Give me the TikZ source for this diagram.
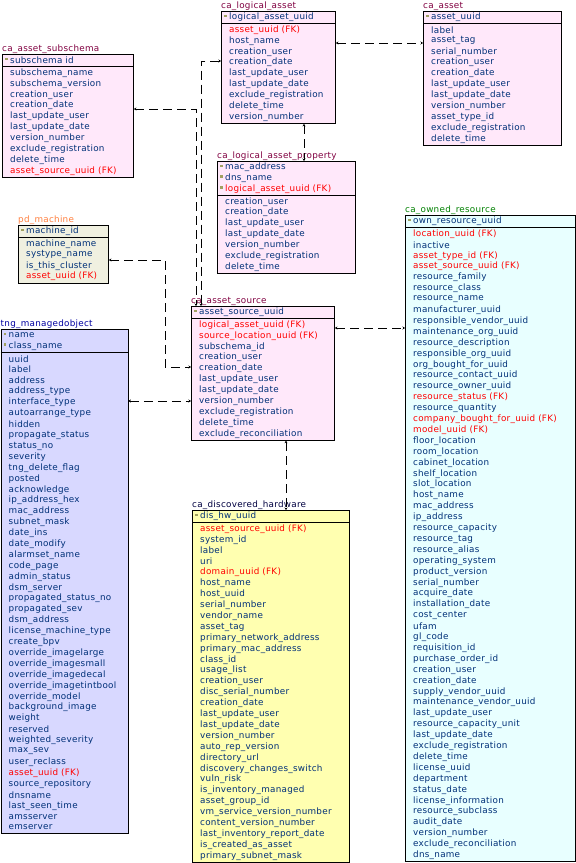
\documentclass[tikz,border=0pt]{standalone}
\usepackage{fontspec}
\setmainfont{DejaVu Sans}[LetterSpace=3]
\usetikzlibrary{arrows.meta}
\definecolor{navy}{HTML}{003078}
\definecolor{fkred}{HTML}{FF0000}
\definecolor{keyc}{HTML}{A0A060}
\definecolor{fpink}{HTML}{FFE8FA}\definecolor{tpink}{HTML}{800040}
\definecolor{fpd}{HTML}{F0F0E0}\definecolor{tpd}{HTML}{FF8040}
\definecolor{ftng}{HTML}{D8D8FF}\definecolor{ttng}{HTML}{0000A0}
\definecolor{fown}{HTML}{E8FFFF}\definecolor{town}{HTML}{008000}
\definecolor{fdisc}{HTML}{FFFFB0}\definecolor{tdisc}{HTML}{000040}
\tikzset{
  x=1pt,y=-1pt,
  box/.style={draw=black,line width=0.9pt,inner sep=0},
  title/.style={inner sep=0,anchor=south west,font=\fontsize{8.8}{9}\selectfont},
  row/.style={inner sep=0,anchor=west,text=navy,font=\fontsize{8.8}{9}\selectfont},
  nn/.style={},
  fk/.style={text=fkred},
  boxpink/.style={fill=fpink}, titlepink/.style={text=tpink},
  boxpd/.style={fill=fpd}, titlepd/.style={text=tpd},
  boxtng/.style={fill=ftng}, titletng/.style={text=ttng},
  boxown/.style={fill=fown}, titleown/.style={text=town},
  boxdisc/.style={fill=fdisc}, titledisc/.style={text=tdisc},
  conn/.style={line width=0.9pt,dash pattern=on 9pt off 5pt,{Stealth[length=2.5pt,width=3pt]}-{Stealth[length=2.5pt,width=3pt]}},
}
\newcommand\mktable[9]{%
  \pgfmathsetmacro\hb{#3+#5*10.9+2}%
  \pgfmathsetmacro\hgt{#5*10.9+2+#6*10.9+1}%
  \node[box,box#7,minimum width=#4pt,minimum height=\hgt pt,anchor=north west] (#1) at (#2,#3) {};
  \draw[line width=0.9pt] (#2,\hb) -- ++(#4,0);
  \node[title,title#7] (#1-t) at (#2,#3-0.5) {#1};
  \foreach[count=\i] \c/\t in {#8} {
    \node[row,\c] (#1-h\i) at (#2+8,#3+6.5+\i*10.9-10.9) {\t};
    \fill[keyc] (#2+3,#3+3.5+\i*10.9-10.9) rectangle ++(2.5,2.5);
  }
  \foreach[count=\i] \c/\t in {#9} {
    \node[row,\c] (#1-r\i) at (#2+8,\hb+6+\i*10.9-10.9) {\t};
  }
}
\begin{document}
\catcode`\_=12
\begin{tikzpicture}
\useasboundingbox (0,0) rectangle (576,863);
\mktable{ca_asset_subschema}{2}{54}{131}{1}{10}{pink}{nn/subschema id}{nn/subschema_name,nn/subschema_version,nn/creation_user,nn/creation_date,nn/last_update_user,nn/last_update_date,nn/version_number,nn/exclude_registration,nn/delete_time,fk/asset_source_uuid (FK)}
\mktable{ca_logical_asset}{221}{11}{114}{1}{9}{pink}{nn/logical_asset_uuid}{fk/asset_uuid (FK),nn/host_name,nn/creation_user,nn/creation_date,nn/last_update_user,nn/last_update_date,nn/exclude_registration,nn/delete_time,nn/version_number}
\mktable{ca_asset}{423}{11}{138}{1}{11}{pink}{nn/asset_uuid}{nn/label,nn/asset_tag,nn/serial_number,nn/creation_user,nn/creation_date,nn/last_update_user,nn/last_update_date,nn/version_number,nn/asset_type_id,nn/exclude_registration,nn/delete_time}
\mktable{ca_logical_asset_property}{217}{161}{138}{3}{7}{pink}{nn/mac_address,nn/dns_name,fk/logical_asset_uuid (FK)}{nn/creation_user,nn/creation_date,nn/last_update_user,nn/last_update_date,nn/version_number,nn/exclude_registration,nn/delete_time}
\mktable{pd_machine}{18}{225}{90}{1}{4}{pd}{nn/machine_id}{nn/machine_name,nn/systype_name,nn/is_this_cluster,fk/asset_uuid (FK)}
\mktable{ca_asset_source}{191}{306}{143}{1}{11}{pink}{nn/asset_source_uuid}{fk/logical_asset_uuid (FK),fk/source_location_uuid (FK),nn/subschema_id,nn/creation_user,nn/creation_date,nn/last_update_user,nn/last_update_date,nn/version_number,nn/exclude_registration,nn/delete_time,nn/exclude_reconciliation}
\mktable{tng_managedobject}{0.5}{329}{127}{2}{44}{tng}{nn/name,nn/class_name}{nn/uuid,nn/label,nn/address,nn/address_type,nn/interface_type,nn/autoarrange_type,nn/hidden,nn/propagate_status,nn/status_no,nn/severity,nn/tng_delete_flag,nn/posted,nn/acknowledge,nn/ip_address_hex,nn/mac_address,nn/subnet_mask,nn/date_ins,nn/date_modify,nn/alarmset_name,nn/code_page,nn/admin_status,nn/dsm_server,nn/propagated_status_no,nn/propagated_sev,nn/dsm_address,nn/license_machine_type,nn/create_bpv,nn/override_imagelarge,nn/override_imagesmall,nn/override_imagedecal,nn/override_imagetintbool,nn/override_model,nn/background_image,nn/weight,nn/reserved,nn/weighted_severity,nn/max_sev,nn/user_reclass,fk/asset_uuid (FK),nn/source_repository,nn/dnsname,nn/last_seen_time,nn/amsserver,nn/emserver}
\mktable{ca_owned_resource}{405}{215}{170}{1}{58}{own}{nn/own_resource_uuid}{fk/location_uuid (FK),nn/inactive,fk/asset_type_id (FK),fk/asset_source_uuid (FK),nn/resource_family,nn/resource_class,nn/resource_name,nn/manufacturer_uuid,nn/responsible_vendor_uuid,nn/maintenance_org_uuid,nn/resource_description,nn/responsible_org_uuid,nn/org_bought_for_uuid,nn/resource_contact_uuid,nn/resource_owner_uuid,fk/resource_status (FK),nn/resource_quantity,fk/company_bought_for_uuid (FK),fk/model_uuid (FK),nn/floor_location,nn/room_location,nn/cabinet_location,nn/shelf_location,nn/slot_location,nn/host_name,nn/mac_address,nn/ip_address,nn/resource_capacity,nn/resource_tag,nn/resource_alias,nn/operating_system,nn/product_version,nn/serial_number,nn/acquire_date,nn/installation_date,nn/cost_center,nn/ufam,nn/gl_code,nn/requisition_id,nn/purchase_order_id,nn/creation_user,nn/creation_date,nn/supply_vendor_uuid,nn/maintenance_vendor_uuid,nn/last_update_user,nn/resource_capacity_unit,nn/last_update_date,nn/exclude_registration,nn/delete_time,nn/license_uuid,nn/department,nn/status_date,nn/license_information,nn/resource_subclass,nn/audit_date,nn/version_number,nn/exclude_reconciliation,nn/dns_name}
\mktable{ca_discovered_hardware}{192}{510}{157}{1}{31}{disc}{nn/dis_hw_uuid}{fk/asset_source_uuid (FK),nn/system_id,nn/label,nn/uri,fk/domain_uuid (FK),nn/host_name,nn/host_uuid,nn/serial_number,nn/vendor_name,nn/asset_tag,nn/primary_network_address,nn/primary_mac_address,nn/class_id,nn/usage_list,nn/creation_user,nn/disc_serial_number,nn/creation_date,nn/last_update_user,nn/last_update_date,nn/version_number,nn/auto_rep_version,nn/directory_url,nn/discovery_changes_switch,nn/vuln_risk,nn/is_inventory_managed,nn/asset_group_id,nn/vm_service_version_number,nn/content_version_number,nn/last_inventory_report_date,nn/is_created_as_asset,nn/primary_subnet_mask}
% connectors
\coordinate (c1) at (300,43);
\draw[conn] (ca_logical_asset.east |- c1) -- (ca_asset.west |- c1);
\coordinate (c2) at (304,0);
\draw[conn] (ca_logical_asset.south -| c2) -- (ca_logical_asset_property.north -| c2);
\coordinate (j1) at (196,109);
\draw[conn] (ca_asset_subschema.east |- j1) -- (j1) -- (j1 |- ca_asset_source.north);
\coordinate (j2) at (201,61);
\draw[conn] (ca_logical_asset.west |- j2) -- (j2) -- (j2 |- ca_asset_source.north);
\coordinate (j3) at (165,260);
\coordinate (j4) at (165,367);
\draw[conn] (pd_machine.east |- j3) -- (j3) -- (j4) -- (ca_asset_source.west |- j4);
\coordinate (j5) at (150,401);
\draw[conn] (tng_managedobject.east |- j5) -- (ca_asset_source.west |- j5);
\coordinate (j6) at (360,328);
\draw[conn] (ca_asset_source.east |- j6) -- (ca_owned_resource.west |- j6);
\coordinate (j7) at (286,0);
\draw[conn] (ca_asset_source.south -| j7) -- (ca_discovered_hardware.north -| j7);
\end{tikzpicture}
\end{document}
